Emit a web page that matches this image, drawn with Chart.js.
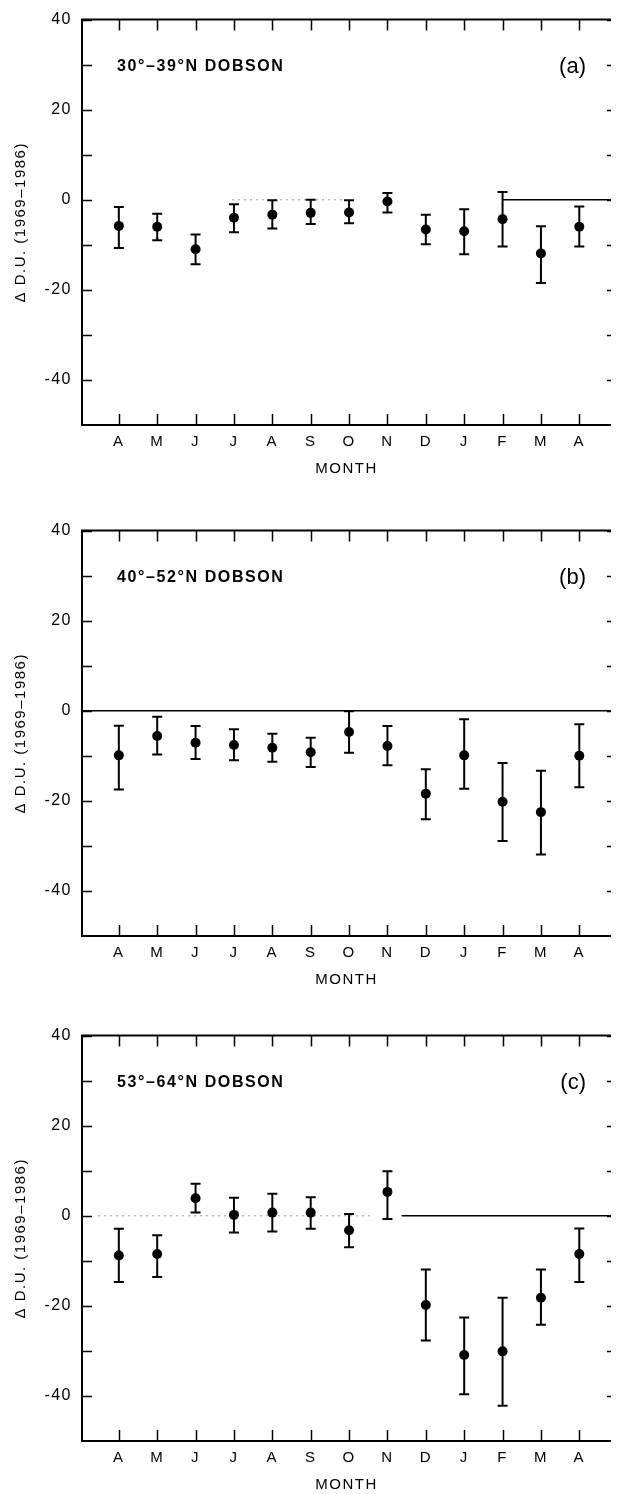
<!DOCTYPE html>
<html>
<head>
<meta charset="utf-8">
<script src="https://cdn.jsdelivr.net/npm/chart.js@4.4.1/dist/chart.umd.min.js"></script>
<style>
  html, body { margin: 0; padding: 0; background: #fff; overflow: hidden; }
  body { width: 618px; height: 1494px; position: relative; }
  .panel { position: absolute; left: 0; width: 618px; height: 478px; }
</style>
</head>
<body>
<div class="panel" style="top:0"><canvas id="chartA" width="618" height="478"></canvas></div>
<div class="panel" style="top:511px"><canvas id="chartB" width="618" height="478"></canvas></div>
<div class="panel" style="top:1016px"><canvas id="chartC" width="618" height="478"></canvas></div>
<script>
// months, April through the following April
const months = ["A", "M", "J", "J", "A", "S", "O", "N", "D", "J", "F", "M", "A"];
const yTicks = [40, 30, 20, 10, 0, -10, -20, -30, -40];
const yTickLabels = ["40", "", "20", "", "0", "", "-20", "", "-40"];

// (a) 30-39N
const meanA = [-5.8, -6.0, -11.0, -4.0, -3.3, -2.9, -2.8, -0.4, -6.6, -7.0, -4.3, -11.9, -6.0];
const lowA  = [-10.7, -9.0, -14.3, -7.2, -6.4, -5.4, -5.2, -2.8, -9.9, -12.1, -10.4, -18.5, -10.4];
const highA = [-1.6, -3.1, -7.7, -1.0, -0.1, 0.0, -0.1, 1.5, -3.3, -2.1, 1.7, -5.9, -1.5];

// (b) 40-52N
const meanB = [-9.9, -5.6, -7.1, -7.6, -8.2, -9.2, -4.7, -7.8, -18.4, -9.9, -20.2, -22.5, -10.0];
const lowB  = [-17.5, -9.7, -10.7, -11.0, -11.3, -12.5, -9.3, -12.1, -24.1, -17.3, -28.9, -31.9, -17.0];
const highB = [-3.3, -1.3, -3.4, -4.1, -5.1, -6.0, -0.1, -3.4, -13.0, -1.9, -11.6, -13.3, -3.0];

// (c) 53-64N
const meanC = [-8.8, -8.5, 3.9, 0.2, 0.7, 0.7, -3.2, 5.3, -19.8, -30.9, -30.1, -18.2, -8.5];
const lowC  = [-14.7, -13.6, 0.7, -3.7, -3.5, -2.9, -7.0, -0.7, -27.7, -39.6, -42.2, -24.2, -14.7];
const highC = [-2.9, -4.3, 7.1, 4.0, 4.9, 4.1, 0.4, 9.9, -11.9, -22.6, -18.2, -11.9, -2.8];

const X_MIN = 0.04, X_MAX = 13.826;
const FONT = "'Liberation Sans', Arial, Helvetica, sans-serif";
Chart.defaults.font.family = FONT;
Chart.defaults.color = "#000";

// frame, inward tick marks, panel labels
const framePlugin = {
  id: "frame",
  beforeDraw(chart) {
    chart.ctx.letterSpacing = "1.5px";
  },
  afterDatasetsDraw(chart, args, opts) {
    const { ctx, chartArea: a, scales } = chart;
    ctx.save();
    ctx.strokeStyle = "#000";
    ctx.lineCap = "butt";
    ctx.lineWidth = 1.5;
    ctx.beginPath();
    yTicks.forEach(v => {
      const y = Math.round(scales.y.getPixelForValue(v)) + 0.5;
      ctx.moveTo(a.left, y); ctx.lineTo(a.left + 10, y);
      ctx.moveTo(a.right - 4, y); ctx.lineTo(a.right, y);
    });
    months.forEach((m, i) => {
      const x = Math.round(scales.x.getPixelForValue(i + 1)) + 0.5;
      ctx.moveTo(x, a.top); ctx.lineTo(x, a.top + 11);
      ctx.moveTo(x, a.bottom); ctx.lineTo(x, a.bottom - 11);
    });
    ctx.stroke();
    ctx.lineWidth = 2;
    ctx.beginPath();
    ctx.moveTo(a.right, a.top); ctx.lineTo(a.left, a.top);
    ctx.lineTo(a.left, a.bottom); ctx.lineTo(a.right, a.bottom);
    ctx.stroke();

    ctx.letterSpacing = "1.6px";
    ctx.font = "bold 16px " + FONT;
    ctx.fillStyle = "#000";
    ctx.textBaseline = "middle";
    ctx.textAlign = "left";
    ctx.fillText(opts.region, a.left + 35, a.top + 47);
    ctx.letterSpacing = "0px";
    ctx.font = "22px " + FONT;
    ctx.textAlign = "right";
    ctx.fillText(opts.tag, a.left + 504, a.top + 47);
    ctx.restore();
  }
};

function errorBars(low, high) {
  const pts = [];
  low.forEach((lo, i) => {
    pts.push({ x: i + 1, y: lo }, { x: i + 1, y: high[i] }, { x: i + 1, y: null });
  });
  return pts;
}

function zeroLine(segs, dashed) {
  return segs.map(s => ({
    data: [{ x: s[0], y: 0 }, { x: s[1], y: 0 }],
    showLine: true,
    pointRadius: 0,
    borderColor: dashed ? "#9a9a9a" : "#000",
    borderWidth: dashed ? 1 : 1.5,
    borderDash: dashed ? [2, 4] : [],
  }));
}

function makeChart(id, region, tag, mean, low, high, solidZero, dottedZero) {
  const datasets = [
    {
      data: mean.map((v, i) => ({ x: i + 1, y: v })),
      pointStyle: "circle",
      pointRadius: 5,
      backgroundColor: "#000",
      borderWidth: 0,
    },
    {
      data: errorBars(low, high),
      showLine: true,
      spanGaps: false,
      borderColor: "#000",
      borderWidth: 2,
      pointStyle: "line",
      pointRadius: 5,
      pointBorderWidth: 2,
      pointBorderColor: "#000",
    },
    ...zeroLine(solidZero, false),
    ...zeroLine(dottedZero, true),
  ];

  return new Chart(document.getElementById(id), {
    type: "scatter",
    data: { datasets },
    options: {
      responsive: false,
      animation: false,
      events: [],
      layout: { padding: { top: 14, left: 0, right: 0, bottom: 0 } },
      plugins: {
        legend: { display: false },
        tooltip: { enabled: false },
        frame: { region, tag },
      },
      scales: {
        x: {
          type: "linear",
          min: X_MIN,
          max: X_MAX,
          afterBuildTicks: s => { s.ticks = months.map((m, i) => ({ value: i + 1 })); },
          afterFit: s => { s.height = 53; },
          grid: { display: false, drawTicks: false },
          border: { display: false },
          ticks: {
            autoSkip: false,
            maxRotation: 0,
            padding: 8,
            font: { size: 15 },
            callback: v => months[v - 1] ?? "",
          },
          title: { display: true, text: "MONTH", font: { size: 15 }, padding: 0 },
        },
        y: {
          min: -50,
          max: 40,
          afterBuildTicks: s => { s.ticks = yTicks.map(v => ({ value: v })); },
          afterFit: s => { s.width = 82; },
          grid: { display: false, drawTicks: false },
          border: { display: false },
          ticks: {
            padding: 10,
            font: { size: 16 },
            callback: (v, i) => yTickLabels[i],
          },
          title: {
            display: true,
            text: "Δ D.U. (1969–1986)",
            font: { size: 15 },
            padding: { top: 12, bottom: 0 },
          },
        },
      },
    },
    plugins: [framePlugin],
  });
}

makeChart("chartA", "30°–39°N DOBSON", "(a)", meanA, lowA, highA,
  [[11, X_MAX]], [[3.95, 6.93]]);
makeChart("chartB", "40°–52°N DOBSON", "(b)", meanB, lowB, highB,
  [[X_MIN, X_MAX]], []);
makeChart("chartC", "53°–64°N DOBSON", "(c)", meanC, lowC, highC,
  [[8.37, X_MAX]], [[0.46, 7.65]]);
</script>
</body>
</html>
